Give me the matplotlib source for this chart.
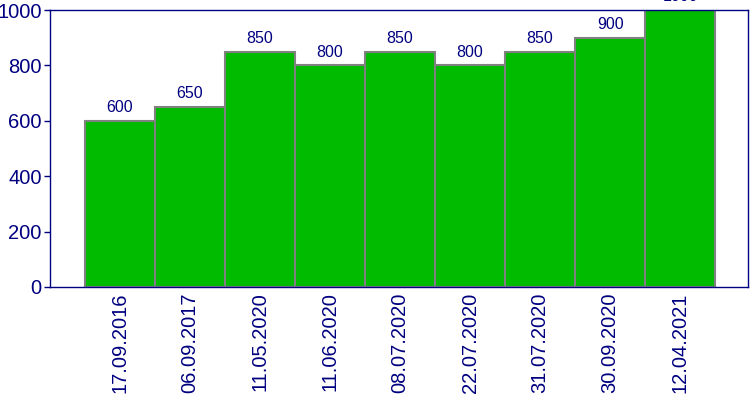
import matplotlib
matplotlib.use("Agg")
import matplotlib.pyplot as plt

dates = ["17.09.2016", "06.09.2017", "11.05.2020", "11.06.2020", "08.07.2020",
         "22.07.2020", "31.07.2020", "30.09.2020", "12.04.2021"]
values = [600, 650, 850, 800, 850, 800, 850, 900, 1000]

navy = "#000080"
plt.rcParams['font.family'] = ['Liberation Sans', 'DejaVu Sans']

fig = plt.figure(figsize=(7.5, 4), dpi=100)
ax = fig.add_axes([50/750, 113/400, 698/750, 277/400])
x = list(range(len(values)))
bars = ax.bar(x, values, width=1.0, color="#00BB00", edgecolor="#808080", linewidth=1.5)
for xi, v in zip(x, values):
    ax.text(xi, v + 20, str(v), ha="center", va="bottom", color=navy, fontsize=11.5, clip_on=False)

ax.set_xlim(-1.0, 8.97)
ax.set_ylim(0, 1000)
ax.set_yticks([0, 200, 400, 600, 800, 1000])
ax.set_xticks(x)
ax.set_xticklabels(dates, rotation=90, fontsize=14.5, color=navy)
ax.tick_params(axis='y', labelsize=14.5, labelcolor=navy, color=navy, length=4, width=1, pad=2)
ax.tick_params(axis='x', length=0, pad=4)
for s in ax.spines.values():
    s.set_color(navy)
    s.set_linewidth(1)

fig.savefig("out.png", dpi=100)
